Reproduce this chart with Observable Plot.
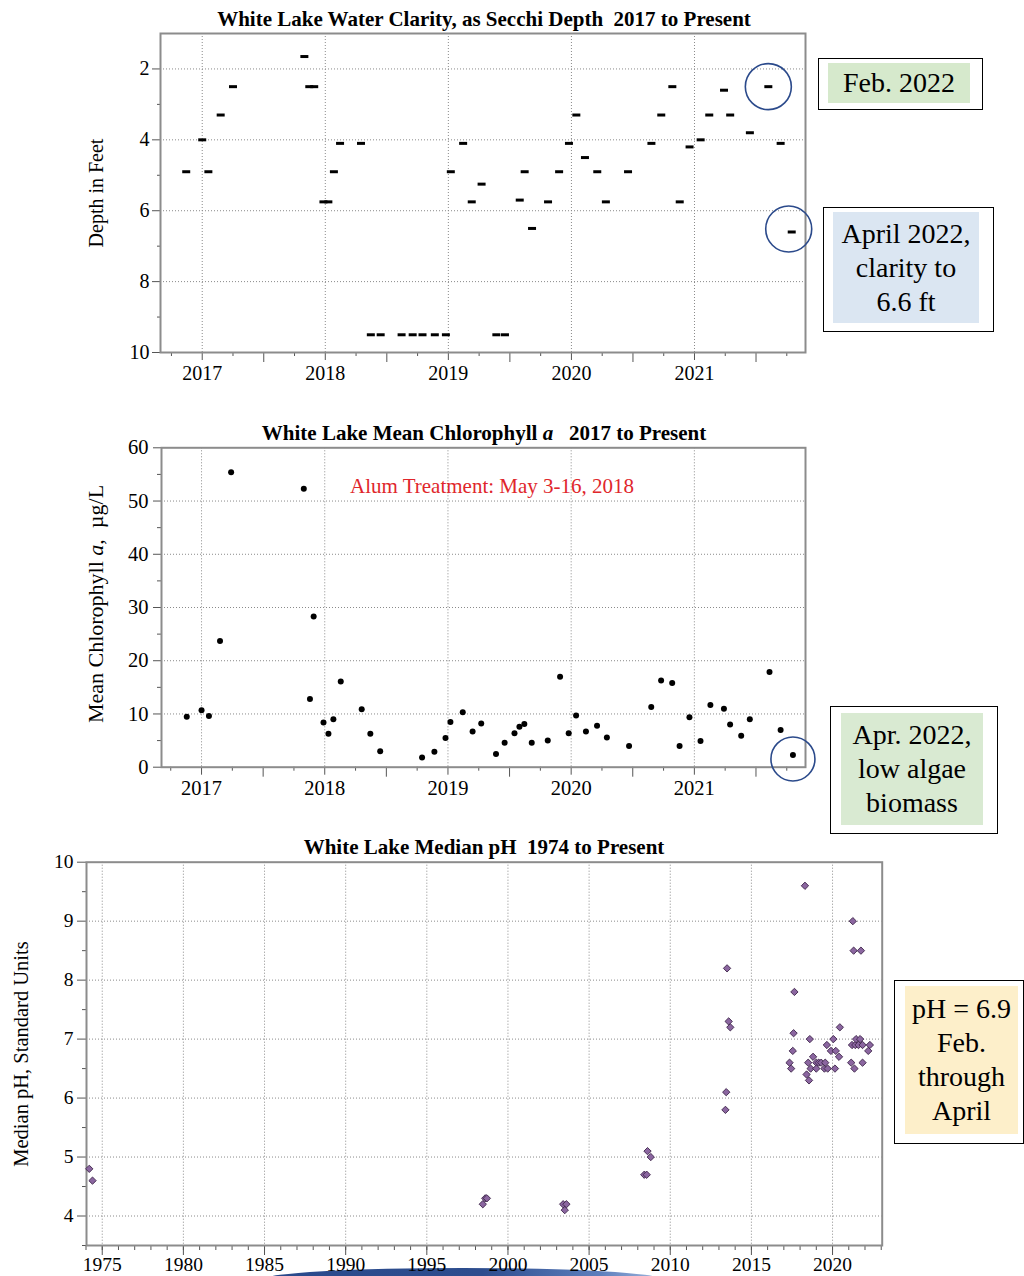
<!DOCTYPE html>
<html><head><meta charset="utf-8">
<script src="https://cdn.jsdelivr.net/npm/d3@7"></script>
<script src="https://cdn.jsdelivr.net/npm/@observablehq/plot@0.6"></script>
<style>
body{margin:0;background:#fff;width:1024px;height:1276px;overflow:hidden;position:relative;font-family:"Liberation Serif","Times New Roman",serif;color:#000;}
.abs{position:absolute;}
.title{position:absolute;left:0;width:968px;text-align:center;font-weight:bold;font-size:21px;line-height:22px;white-space:pre;}
.ylab{position:absolute;transform:translate(-50%,-50%) rotate(-90deg);white-space:pre;font-size:20px;}
.box{position:absolute;border:1px solid #000;background:#fff;}
.inner{position:absolute;display:flex;align-items:center;justify-content:center;text-align:center;font-size:28px;line-height:34px;}
.note{position:absolute;color:#e0262b;font-size:21px;white-space:pre;}
</style></head><body>
<div class="abs" style="left:265px;top:1268px;width:395px;height:22px;border-radius:50%;background:linear-gradient(90deg,#2a4a8c 0%,#2d4d8e 55%,#5d7fbd 85%,#9fb5dc 100%)"></div>

<div id="c1" class="abs" style="left:0;top:0"></div>
<div id="c2" class="abs" style="left:0;top:395px"></div>
<div id="c3" class="abs" style="left:0;top:825px"></div>

<div class="title" style="top:8px">White Lake Water Clarity, as Secchi Depth  2017 to Present</div>
<div class="title" style="top:422px">White Lake Mean Chlorophyll <i>a</i>   2017 to Present</div>
<div class="title" style="top:836px">White Lake Median pH  1974 to Present</div>

<div class="ylab" style="left:96px;top:193px">Depth in Feet</div>
<div class="ylab" style="left:96px;top:604px;font-size:22px">Mean Chlorophyll <i>a</i>,  µg/L</div>
<div class="ylab" style="left:21px;top:1054px;font-size:20.5px">Median pH, Standard Units</div>

<div class="note" style="left:350px;top:474px">Alum Treatment: May 3-16, 2018</div>

<div class="box" style="left:818px;top:58px;width:163px;height:50px"></div>
<div class="inner" style="left:828px;top:63px;width:142px;height:40px;background:#d6e9cc">Feb. 2022</div>

<div class="box" style="left:823px;top:207px;width:169px;height:123px"></div>
<div class="inner" style="left:833px;top:212px;width:146px;height:111px;background:#dbe6f2">April 2022,<br>clarity to<br>6.6 ft</div>

<div class="box" style="left:830px;top:706px;width:166px;height:126px"></div>
<div class="inner" style="left:841px;top:713px;width:142px;height:112px;background:#d9ead2">Apr. 2022,<br>low algae<br>biomass</div>

<div class="box" style="left:894px;top:980px;width:128px;height:162px"></div>
<div class="inner" style="left:905px;top:986px;width:113px;height:148px;background:#fdefca">pH = 6.9<br>Feb.<br>through<br>April</div>

<script>
// ---------- Data: Secchi depth ----------
const secchiYear = [2016.87, 2017.00, 2017.05, 2017.15, 2017.25, 2017.83, 2017.87, 2017.91, 2017.985, 2018.025,
  2018.07, 2018.12, 2018.29, 2018.37, 2018.45, 2018.62, 2018.71, 2018.79, 2018.89, 2018.98,
  2019.02, 2019.12, 2019.19, 2019.27, 2019.39, 2019.46, 2019.58, 2019.62, 2019.68, 2019.81,
  2019.90, 2019.98, 2020.04, 2020.11, 2020.21, 2020.28, 2020.46, 2020.65, 2020.73, 2020.82,
  2020.88, 2020.96, 2021.05, 2021.12, 2021.24, 2021.29, 2021.45, 2021.60, 2021.70, 2021.79];
const secchiDepth = [4.9, 4.0, 4.9, 3.3, 2.5, 1.65, 2.5, 2.5, 5.75, 5.75,
  4.9, 4.1, 4.1, 9.5, 9.5, 9.5, 9.5, 9.5, 9.5, 9.5,
  4.9, 4.1, 5.75, 5.25, 9.5, 9.5, 5.7, 4.9, 6.5, 5.75,
  4.9, 4.1, 3.3, 4.5, 4.9, 5.75, 4.9, 4.1, 3.3, 2.5,
  5.75, 4.2, 4.0, 3.3, 2.6, 3.3, 3.8, 2.5, 4.1, 6.6];

// ---------- Data: Chlorophyll a ----------
const chlYear = [2016.88, 2017.00, 2017.06, 2017.15, 2017.24, 2017.83, 2017.88, 2017.91, 2017.99, 2018.03,
  2018.07, 2018.13, 2018.30, 2018.37, 2018.45, 2018.79, 2018.89, 2018.98, 2019.02, 2019.12,
  2019.20, 2019.27, 2019.39, 2019.46, 2019.54, 2019.58, 2019.62, 2019.68, 2019.81, 2019.91,
  2019.98, 2020.04, 2020.12, 2020.21, 2020.29, 2020.47, 2020.65, 2020.73, 2020.82, 2020.88,
  2020.96, 2021.05, 2021.13, 2021.24, 2021.29, 2021.38, 2021.45, 2021.61, 2021.70, 2021.80];
const chlValue = [9.5, 10.7, 9.6, 23.7, 55.4, 52.3, 12.8, 28.3, 8.4, 6.3,
  9.0, 16.1, 10.9, 6.3, 3.0, 1.8, 2.9, 5.5, 8.5, 10.3,
  6.7, 8.2, 2.5, 4.6, 6.4, 7.6, 8.1, 4.6, 5.0, 17.0,
  6.4, 9.7, 6.7, 7.8, 5.6, 4.0, 11.3, 16.3, 15.8, 4.0,
  9.4, 4.9, 11.7, 11.0, 8.0, 5.9, 9.0, 17.9, 7.0, 2.3];

// ---------- Data: median pH ----------
const phYear = [1974.2, 1974.4,
  1998.45, 1998.6, 1998.7,
  2003.4, 2003.6, 2003.5,
  2008.4, 2008.55, 2008.6, 2008.8,
  2013.4, 2013.45, 2013.6, 2013.7, 2013.5,
  2017.35, 2017.45, 2017.55, 2017.6, 2017.65,
  2018.3, 2018.4, 2018.5, 2018.55, 2018.6, 2018.65, 2018.8, 2019.0, 2019.0, 2019.15,
  2019.3, 2019.5, 2019.55, 2019.65, 2019.7, 2019.9, 2020.05, 2020.15, 2020.2, 2020.4, 2020.45,
  2021.15, 2021.2, 2021.25, 2021.3, 2021.35, 2021.4, 2021.45, 2021.6, 2021.7, 2021.75, 2021.85, 2021.85, 2022.2, 2022.3];
const phValue = [4.8, 4.6,
  4.2, 4.3, 4.3,
  4.2, 4.2, 4.1,
  4.7, 4.7, 5.1, 5.0,
  5.8, 6.1, 7.3, 7.2, 8.2,
  6.6, 6.5, 6.8, 7.1, 7.8,
  9.6, 6.4, 6.6, 6.3, 7.0, 6.5, 6.7, 6.6, 6.5, 6.6,
  6.6, 6.5, 6.6, 6.9, 6.5, 6.8, 7.0, 6.5, 6.8, 6.7, 7.2,
  6.6, 6.9, 9.0, 8.5, 6.5, 6.9, 7.0, 6.9, 7.0, 8.5, 6.9, 6.6, 6.8, 6.9];

// ---------- Tick labels ----------
const yearTicks = [2017, 2018, 2019, 2020, 2021];
const quarterTicks = [2016.75, 2017.25, 2017.75, 2018.25, 2018.75, 2019.25, 2019.75, 2020.25, 2020.75, 2021.25, 2021.75];
const midYearTicks = [2017.5, 2018.5, 2019.5, 2020.5, 2021.5];
const depthTicks = [2, 4, 6, 8, 10];
const depthMinor = [3, 5, 7, 9];
const depthGrid = [2, 4, 6, 8];
const chlTicks = [0, 10, 20, 30, 40, 50, 60];
const chlMinor = [5, 15, 25, 35, 45, 55];
const chlGrid = [10, 20, 30, 40, 50];
const phYearTicks = [1975, 1980, 1985, 1990, 1995, 2000, 2005, 2010, 2015, 2020];
const phYearMinor = d3.range(1974, 2024);
const phTicks = [4, 5, 6, 7, 8, 9, 10];
const phMinor = [3.5, 4.5, 5.5, 6.5, 7.5, 8.5, 9.5];
const phGrid = [4, 5, 6, 7, 8, 9];

const secchi = secchiYear.map((x, i) => ({x, y: secchiDepth[i]}));
const chl = chlYear.map((x, i) => ({x, y: chlValue[i]}));
const ph = phYear.map((x, i) => ({x, y: phValue[i]}));

const dash = {draw(ctx) { ctx.rect(-4, -1.5, 8, 3); }};
const gridStyle = {stroke: "#8a8a8a", strokeOpacity: 1, strokeWidth: 1, strokeDasharray: "1,2"};
const frameStyle = {stroke: "#8c8c8c", strokeWidth: 2};
const fmt = d => String(d);
const blank = () => "";
const circ = {r: 23, fill: "none", stroke: "#2b4a8b", strokeWidth: 1.6};

// ---------- Chart 1: Secchi ----------
const p1 = Plot.plot({
  width: 820, height: 390,
  marginLeft: 160, marginRight: 15, marginTop: 33, marginBottom: 38,
  style: {fontFamily: "Liberation Serif", fontSize: "20px", color: "#000", background: "transparent", overflow: "visible"},
  x: {domain: [2016.661, 2021.902]},
  y: {domain: [1, 10], reverse: true},
  marks: [
    Plot.gridX(yearTicks, gridStyle),
    Plot.gridY(depthGrid, gridStyle),
    Plot.axisX(yearTicks, {tickSize: 8, tickPadding: 5, tickFormat: fmt, label: null, stroke: "#555"}),
    Plot.axisX(quarterTicks, {tickSize: 4, tickFormat: blank, label: null, stroke: "#555"}),
    Plot.axisX(midYearTicks, {tickSize: 10, tickFormat: blank, label: null, stroke: "#555"}),
    Plot.axisY(depthTicks, {tickSize: 8, tickPadding: 3, tickFormat: fmt, label: null, stroke: "#555"}),
    Plot.axisY(depthMinor, {tickSize: 3, tickFormat: blank, label: null, stroke: "#555"}),
    Plot.frame(frameStyle),
    Plot.dot(secchi, {x: "x", y: "y", symbol: dash, fill: "#000"}),
    Plot.dot([secchi[47]], {x: "x", y: "y", ...circ}),
    Plot.dot([secchi[49]], {x: "x", y: "y", dx: -3, dy: -3, ...circ})
  ]
});
document.getElementById("c1").append(p1);

// ---------- Chart 2: Chlorophyll ----------
const p2 = Plot.plot({
  width: 820, height: 410,
  marginLeft: 161, marginRight: 15, marginTop: 52.3, marginBottom: 38.3,
  style: {fontFamily: "Liberation Serif", fontSize: "20.5px", color: "#000", background: "transparent", overflow: "visible"},
  x: {domain: [2016.675, 2021.902]},
  y: {domain: [0, 60]},
  marks: [
    Plot.gridX(yearTicks, gridStyle),
    Plot.gridY(chlGrid, gridStyle),
    Plot.axisX(yearTicks, {tickSize: 8, tickPadding: 5, tickFormat: fmt, label: null, stroke: "#555"}),
    Plot.axisX(quarterTicks, {tickSize: 4, tickFormat: blank, label: null, stroke: "#555"}),
    Plot.axisX(midYearTicks, {tickSize: 10, tickFormat: blank, label: null, stroke: "#555"}),
    Plot.axisY(chlTicks, {tickSize: 8, tickPadding: 5, tickFormat: fmt, label: null, stroke: "#555"}),
    Plot.axisY(chlMinor, {tickSize: 4, tickFormat: blank, label: null, stroke: "#555"}),
    Plot.frame(frameStyle),
    Plot.dot(chl, {x: "x", y: "y", r: 3, fill: "#000"}),
    Plot.dot([chl[49]], {x: "x", y: "y", dy: 4, ...circ, r: 22})
  ]
});
document.getElementById("c2").append(p2);

// ---------- Chart 3: pH ----------
const p3 = Plot.plot({
  width: 890, height: 451,
  marginLeft: 86, marginRight: 8.3, marginTop: 36.7, marginBottom: 31,
  style: {fontFamily: "Liberation Serif", fontSize: "19.5px", color: "#000", background: "transparent", overflow: "visible"},
  x: {domain: [1974.03, 2023.06]},
  y: {domain: [3.5, 10]},
  marks: [
    Plot.gridX(phYearTicks, gridStyle),
    Plot.gridY(phGrid, gridStyle),
    Plot.axisX(phYearTicks, {tickSize: 10, tickPadding: 2, tickFormat: fmt, label: null, stroke: "#555"}),
    Plot.axisX(phYearMinor, {tickSize: 5, tickFormat: blank, label: null, stroke: "#555"}),
    Plot.axisY(phTicks, {tickSize: 9, tickPadding: 4, tickFormat: fmt, label: null, stroke: "#555"}),
    Plot.axisY(phMinor, {tickSize: 4, tickFormat: blank, label: null, stroke: "#555"}),
    Plot.frame(frameStyle),
    Plot.dot(ph, {x: "x", y: "y", symbol: "diamond2", r: 3.3, fill: "#8b66a0", stroke: "#3c2448", strokeWidth: 0.9})
  ]
});
document.getElementById("c3").append(p3);
</script>
</body></html>
